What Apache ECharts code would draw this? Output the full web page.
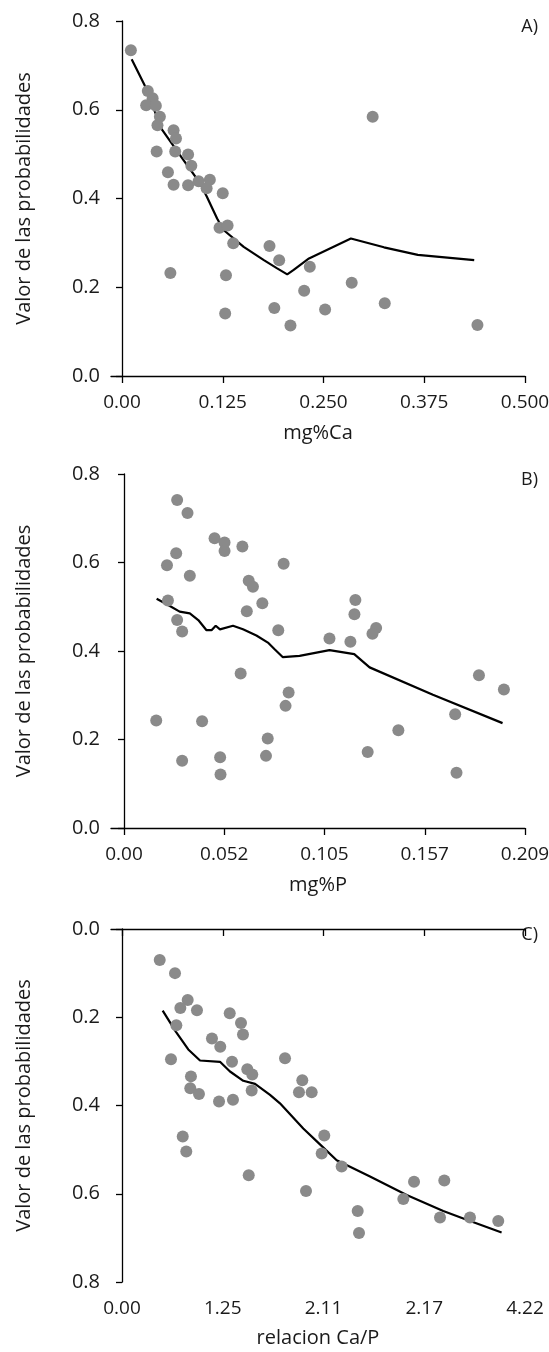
<!DOCTYPE html>
<html>
<head>
<meta charset="utf-8">
<script src="https://cdn.jsdelivr.net/npm/echarts@6/dist/echarts.min.js"></script>
<style>
  html, body { margin: 0; padding: 0; background: #fff; }
  #chart { width: 549px; height: 1352px; }
</style>
</head>
<body>
<div id="chart"></div>
<script>
// datos
var caPoints = [[0.011,0.734],[0.032,0.642],[0.038,0.626],[0.030,0.610],[0.042,0.609],[0.047,0.584],[0.044,0.565],[0.064,0.554],[0.067,0.535],[0.043,0.506],[0.066,0.506],[0.082,0.499],[0.086,0.474],[0.057,0.459],[0.064,0.431],[0.082,0.430],[0.095,0.439],[0.109,0.442],[0.105,0.423],[0.125,0.412],[0.121,0.334],[0.131,0.339],[0.138,0.299],[0.183,0.293],[0.195,0.261],[0.060,0.232],[0.129,0.227],[0.233,0.246],[0.226,0.192],[0.189,0.153],[0.128,0.141],[0.209,0.114],[0.311,0.584],[0.285,0.210],[0.252,0.150],[0.326,0.164],[0.441,0.115]];
var caCurve = [[0.012,0.714],[0.029,0.652],[0.049,0.557],[0.075,0.490],[0.097,0.434],[0.105,0.405],[0.118,0.355],[0.126,0.329],[0.151,0.291],[0.176,0.261],[0.192,0.243],[0.205,0.229],[0.213,0.239],[0.232,0.265],[0.284,0.310],[0.325,0.290],[0.367,0.273],[0.437,0.261]];

var pPoints = [[0.0277,0.741],[0.0331,0.712],[0.0472,0.655],[0.0524,0.645],[0.0524,0.626],[0.0617,0.636],[0.0272,0.621],[0.0224,0.594],[0.0832,0.597],[0.0343,0.570],[0.065,0.559],[0.0672,0.545],[0.0229,0.514],[0.0721,0.508],[0.064,0.490],[0.0277,0.470],[0.0303,0.444],[0.0804,0.447],[0.0608,0.349],[0.0858,0.306],[0.0842,0.276],[0.0168,0.243],[0.0407,0.241],[0.0749,0.202],[0.0303,0.152],[0.0501,0.160],[0.074,0.163],[0.0503,0.121],[0.1206,0.515],[0.1201,0.483],[0.1314,0.452],[0.1295,0.439],[0.1071,0.428],[0.118,0.421],[0.185,0.345],[0.198,0.313],[0.1726,0.257],[0.143,0.221],[0.127,0.172],[0.1733,0.125]];
var pCurve = [[0.017,0.518],[0.023,0.504],[0.029,0.489],[0.0343,0.485],[0.0387,0.470],[0.043,0.447],[0.0456,0.447],[0.0478,0.457],[0.050,0.449],[0.0568,0.457],[0.062,0.449],[0.069,0.435],[0.075,0.419],[0.0785,0.404],[0.0828,0.386],[0.0915,0.389],[0.1071,0.402],[0.120,0.393],[0.128,0.363],[0.161,0.301],[0.1973,0.237]];

var capPoints = [[0.395,0.070],[0.555,0.100],[0.688,0.161],[0.611,0.179],[0.785,0.184],[0.569,0.218],[1.128,0.191],[1.246,0.213],[1.267,0.239],[0.942,0.248],[1.029,0.267],[0.513,0.295],[1.152,0.301],[1.707,0.293],[1.312,0.318],[1.364,0.330],[0.722,0.334],[1.888,0.343],[0.715,0.361],[0.806,0.374],[1.358,0.366],[1.853,0.370],[1.986,0.370],[1.016,0.391],[1.162,0.387],[0.636,0.470],[0.673,0.504],[1.327,0.558],[1.927,0.594],[2.118,0.468],[2.091,0.509],[2.300,0.538],[2.468,0.639],[2.482,0.689],[2.946,0.612],[3.058,0.573],[3.375,0.570],[3.330,0.654],[3.644,0.654],[3.940,0.662]];
var capCurve = [[0.426,0.185],[0.565,0.233],[0.694,0.273],[0.817,0.298],[1.026,0.301],[1.131,0.323],[1.270,0.344],[1.393,0.351],[1.550,0.376],[1.654,0.395],[1.898,0.452],[2.073,0.488],[2.248,0.524],[2.597,0.561],[2.981,0.603],[3.364,0.639],[3.609,0.659],[3.975,0.688]];

var caTicks = [0, 0.125, 0.25, 0.375, 0.5];
var caLabels = ['0.00', '0.125', '0.250', '0.375', '0.500'];
var pTicks = [0, 0.05225, 0.1045, 0.15675, 0.209];
var pLabels = ['0.00', '0.052', '0.105', '0.157', '0.209'];
var capTicks = [0, 1.055, 2.11, 3.165, 4.22];
var capLabels = ['0.00', '1.25', '2.11', '2.17', '4.22'];
var yTicks = [0, 0.2, 0.4, 0.6, 0.8];

var fam = '"Open Sans", sans-serif';
var txt = '#1a1a1a';
var myChart = echarts.init(document.getElementById('chart'));

var panels = [
  {top: 21, height: 355, xmin: -0.01365, xmax: 0.5, ticks: caTicks, labels: caLabels, name: 'mg%Ca', gap: 47, inv: false, pts: caPoints, line: caCurve, tag: 'A)'},
  {top: 474, height: 354, xmin: -0.00678, xmax: 0.209, ticks: pTicks, labels: pLabels, name: 'mg%P', gap: 47, inv: false, pts: pPoints, line: pCurve, tag: 'B)'},
  {top: 929, height: 353, xmin: -0.1152, xmax: 4.22, ticks: capTicks, labels: capLabels, name: 'relacion Ca/P', gap: 46, inv: true, pts: capPoints, line: capCurve, tag: 'C)'}
];

var grid = [], xAxis = [], yAxis = [], series = [], graphic = [];
panels.forEach(function (p, i) {
  grid.push({left: 111, width: 414, top: p.top, height: p.height, containLabel: false, outerBoundsMode: 'none'});
  xAxis.push({
    type: 'value', gridIndex: i, min: p.xmin, max: p.xmax,
    axisLine: {lineStyle: {color: '#000', width: 1.3}},
    axisTick: {customValues: p.ticks, length: 7, lineStyle: {color: '#000', width: 1.3}},
    axisLabel: {
      customValues: p.ticks, margin: 17, color: txt, fontFamily: fam, fontSize: 19,
      formatter: function (v) {
        var k = 0;
        for (var j = 0; j < p.ticks.length; j++) {
          if (Math.abs(p.ticks[j] - v) < Math.abs(p.ticks[k] - v)) k = j;
        }
        return p.labels[k];
      }
    },
    splitLine: {show: false},
    name: p.name, nameLocation: 'middle', nameGap: p.gap,
    nameTextStyle: {color: txt, fontFamily: fam, fontSize: 20}
  });
  yAxis.push({
    type: 'value', gridIndex: i, min: 0, max: 0.8, inverse: p.inv,
    axisLine: {show: true, lineStyle: {color: '#000', width: 1.3}},
    axisTick: {show: true, customValues: yTicks, length: 6, lineStyle: {color: '#000', width: 1.3}},
    axisLabel: {customValues: yTicks, margin: 11, color: txt, fontFamily: fam, fontSize: 20,
      formatter: function (v) { return v.toFixed(1); }},
    splitLine: {show: false},
    name: 'Valor de las probabilidades', nameLocation: 'middle', nameGap: 77,
    nameTextStyle: {color: txt, fontFamily: fam, fontSize: 20}
  });
  series.push({
    type: 'line', xAxisIndex: i, yAxisIndex: i, data: p.line,
    showSymbol: false, lineStyle: {color: '#000', width: 2.2}, z: 2
  });
  series.push({
    type: 'scatter', xAxisIndex: i, yAxisIndex: i, data: p.pts,
    symbolSize: 12, itemStyle: {color: '#8a8a8a', opacity: 1}, z: 3
  });
  graphic.push({
    type: 'text', right: 11, top: p.top - 3,
    style: {text: p.tag, fontFamily: fam, fontSize: 18, fill: txt}
  });
});

myChart.setOption({
  animation: false,
  grid: grid,
  xAxis: xAxis,
  yAxis: yAxis,
  series: series,
  graphic: graphic
});
</script>
</body>
</html>
